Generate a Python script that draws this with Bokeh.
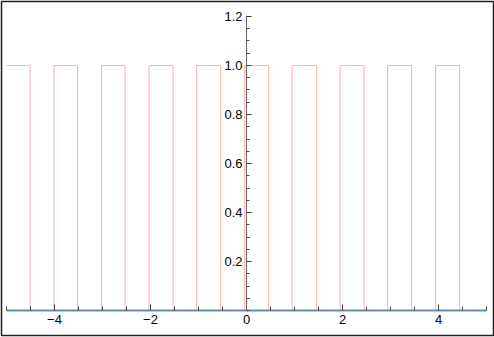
from bokeh.plotting import figure
from bokeh.models import FixedTicker, Range1d
from bokeh.embed import file_html
from bokeh.resources import INLINE

# Square-wave pulses (high = 1)
pulse_start = [-5.0, -4.01, -3.02, -2.03, -1.04, -0.04, 0.95, 1.95, 2.94, 3.94]
pulse_end = [-4.51, -3.52, -2.53, -1.53, -0.54, 0.46, 1.46, 2.45, 3.44, 4.44]
high_value = 1.0
low_value = 0.0
x_min, x_max = -5.0, 5.0

x_ticks = [-4, -2, 0, 2, 4]
x_labels = ["\u22124", "\u22122", "0", "2", "4"]
x_minor = [-5, -4.5, -4, -3.5, -3, -2.5, -2, -1.5, -1, -0.5, 0, 0.5, 1, 1.5, 2, 2.5, 3, 3.5, 4, 4.5, 5]
y_ticks = [0.2, 0.4, 0.6, 0.8, 1.0, 1.2]
y_labels = ["0.2", "0.4", "0.6", "0.8", "1.0", "1.2"]
y_minor = [round(0.05 * k, 2) for k in range(0, 25)]

# build the step path
xs, ys = [], []
for i, (s, e) in enumerate(zip(pulse_start, pulse_end)):
    if i > 0:
        xs += [s]
        ys += [low_value]
    xs += [s, e, e]
    ys += [high_value, high_value, low_value]
xs.append(x_max)
ys.append(low_value)

p = figure(width=494, height=337, output_backend="svg", toolbar_location=None,
           x_range=Range1d(-5.1042, 5.1458), y_range=Range1d(-0.102, 1.2612),
           min_border_left=1, min_border_right=1, min_border_top=1, min_border_bottom=2)
p.background_fill_color = "white"
p.border_fill_color = "white"
p.outline_line_color = "#222222"
p.outline_line_width = 1.5
p.grid.visible = False

p.line(xs, ys, line_color="#ffb8b8", line_width=1.2, level="underlay")
p.line([x_min, x_max], [low_value, low_value], line_color="#5b87b3", line_width=1.7,
       level="underlay")

for ax in (p.xaxis[0], p.yaxis[0]):
    ax.fixed_location = 0
    ax.axis_line_color = "#666666"
    ax.major_tick_line_color = "#333333"
    ax.minor_tick_line_color = "#444444"
    ax.major_tick_in = 5
    ax.major_tick_out = 0
    ax.minor_tick_in = 3
    ax.minor_tick_out = 0
    ax.major_label_text_font = "Liberation Sans"
    ax.major_label_text_font_size = "13px"
    ax.major_label_text_color = "black"
    ax.major_label_standoff = 4

p.xaxis[0].bounds = (x_min, x_max)
p.xaxis[0].axis_line_color = "#5b87b3"
p.xaxis[0].axis_line_width = 1.7
p.xaxis[0].major_tick_in = 6
p.xaxis[0].minor_tick_in = 4
p.xaxis[0].ticker = FixedTicker(ticks=x_ticks, minor_ticks=x_minor)
p.xaxis[0].major_label_overrides = {t: l for t, l in zip(x_ticks, x_labels)}

p.yaxis[0].bounds = (0, 1.2)
p.yaxis[0].ticker = FixedTicker(ticks=y_ticks, minor_ticks=y_minor)
p.yaxis[0].major_label_overrides = {t: l for t, l in zip(y_ticks, y_labels)}

open("out.html", "w").write(file_html(p, INLINE))
